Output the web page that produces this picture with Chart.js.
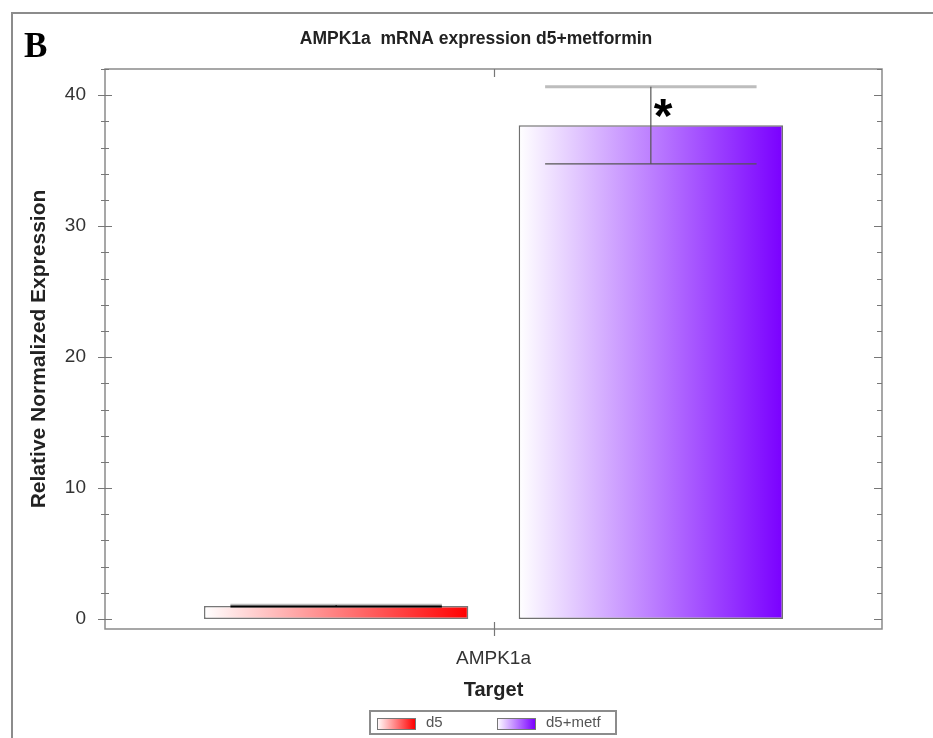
<!DOCTYPE html>
<html>
<head>
<meta charset="utf-8">
<script src="https://cdn.jsdelivr.net/npm/chart.js@4.4.1/dist/chart.umd.min.js"></script>
<style>
html, body { margin: 0; padding: 0; background: #fff; }
</style>
</head>
<body>
<canvas id="exprChart" width="933" height="738"></canvas>
<script>
// data
var targets = ['AMPK1a'];
var groups = ['d5', 'd5+metf'];
var d5Values = [1.0];
var metfValues = [37.7];
var d5Errors = [0.05];
var metfErrors = [2.95];
var marks = ['', '*'];
var yTicks = [0, 2, 4, 6, 8, 10, 12, 14, 16, 18, 20, 22, 24, 26, 28, 30, 32, 34, 36, 38, 40, 42];
var yLabels = [0, 10, 20, 30, 40];
var endColors = ['#ff0000', '#7a00ff'];

var CAT_PCT = 0.81, BAR_PCT = 0.84;

// white -> colour gradient across each bar
function barGradient(ctx) {
    var chart = ctx.chart;
    var xs = chart.scales.x;
    var end = endColors[ctx.datasetIndex];
    if (!xs || !chart.chartArea) return end;
    var center = xs.getPixelForValue(ctx.dataIndex);
    var slot = xs.width * CAT_PCT / 2;
    var w = slot * BAR_PCT;
    var cx = center + (ctx.datasetIndex - 0.5) * slot;
    var g = chart.ctx.createLinearGradient(cx - w / 2, 0, cx + w / 2, 0);
    g.addColorStop(0, '#ffffff');
    g.addColorStop(1, end);
    return g;
}

var errors = [d5Errors, metfErrors];

var decor = {
    id: 'decor',
    beforeDraw: function(chart) {
        var c = chart.ctx;
        c.save();
        // outer frame (top + left)
        c.strokeStyle = '#8c8c8c';
        c.lineWidth = 2;
        c.beginPath();
        c.moveTo(12, 738);
        c.lineTo(12, 13);
        c.lineTo(933, 13);
        c.stroke();
        c.fillStyle = '#000';
        c.font = 'bold 35px "Liberation Serif"';
        c.textBaseline = 'alphabetic';
        c.fillText('B', 24, 57);
        c.fillStyle = '#222';
        c.font = 'bold 17.5px "Liberation Sans"';
        c.textAlign = 'center';
        c.fillText('AMPK1a  mRNA expression d5+metformin', 476, 44);
        c.restore();
    },
    afterDatasetsDraw: function(chart) {
        var c = chart.ctx;
        var ys = chart.scales.y;
        c.save();
        chart.data.datasets.forEach(function(ds, di) {
            var meta = chart.getDatasetMeta(di);
            meta.data.forEach(function(el, i) {
                var v = ds.data[i], e = errors[di][i];
                var half = el.width * 0.4;
                var yHi = ys.getPixelForValue(v + e);
                var yLo = ys.getPixelForValue(v - e);
                c.strokeStyle = '#bdbdbd';
                c.lineWidth = 3;
                c.beginPath(); c.moveTo(el.x - half, yHi); c.lineTo(el.x + half, yHi); c.stroke();
                c.strokeStyle = di === 0 ? '#000' : '#555';
                c.lineWidth = di === 0 ? 2 : 1.2;
                c.beginPath(); c.moveTo(el.x - half, yLo); c.lineTo(el.x + half, yLo); c.stroke();
                c.lineWidth = 1.2;
                c.beginPath(); c.moveTo(el.x, yHi); c.lineTo(el.x, yLo); c.stroke();
                if (marks[di]) {
                    c.fillStyle = '#000';
                    c.font = 'bold 48px "Liberation Sans"';
                    c.textAlign = 'left';
                    c.textBaseline = 'middle';
                    c.fillText(marks[di], el.x + 3, (yHi + el.y) / 2 + 13);
                }
            });
        });
        c.restore();
    },
    afterDraw: function(chart) {
        var c = chart.ctx;
        var a = chart.chartArea;
        var ys = chart.scales.y, xs = chart.scales.x;
        c.save();
        c.strokeStyle = '#8a8a8a';
        c.lineWidth = 1.5;
        c.strokeRect(a.left, a.top, a.right - a.left, a.bottom - a.top);
        c.strokeStyle = '#777';
        c.lineWidth = 1.2;
        yTicks.forEach(function(v) {
            var y = Math.round(ys.getPixelForValue(v)) + 0.5;
            var major = yLabels.indexOf(v) >= 0;
            var l = major ? 7 : 4;
            c.beginPath();
            c.moveTo(a.left - l, y); c.lineTo(a.left + l, y);
            c.moveTo(a.right - (major ? 8 : 5), y); c.lineTo(a.right, y);
            c.stroke();
        });
        targets.forEach(function(t, i) {
            var x = Math.round(xs.getPixelForValue(i)) + 0.5;
            c.beginPath();
            c.moveTo(x, a.bottom - 7); c.lineTo(x, a.bottom + 7);
            c.moveTo(x, a.top); c.lineTo(x, a.top + 8);
            c.stroke();
        });
        // legend box
        c.strokeStyle = '#8c8c8c';
        c.lineWidth = 2;
        c.strokeRect(370, 711, 246, 23);
        var sx = [377, 497];
        c.font = '15px "Liberation Sans"';
        c.textBaseline = 'middle';
        c.textAlign = 'left';
        chart.data.datasets.forEach(function(ds, di) {
            var g = c.createLinearGradient(sx[di], 0, sx[di] + 38, 0);
            g.addColorStop(0, '#ffffff');
            g.addColorStop(1, endColors[di]);
            c.fillStyle = g;
            c.fillRect(sx[di], 718, 38, 11);
            c.strokeStyle = '#777';
            c.lineWidth = 1;
            c.strokeRect(sx[di] + 0.5, 718.5, 38, 11);
            c.fillStyle = '#555';
            c.fillText(ds.label, sx[di] + 49, 723);
        });
        c.restore();
    }
};

var ctx = document.getElementById('exprChart').getContext('2d');
var exprChart = new Chart(ctx, {
    type: 'bar',
    data: {
        labels: targets,
        datasets: [{
            label: groups[0],
            data: d5Values,
            backgroundColor: barGradient,
            borderColor: '#777777',
            borderWidth: 1.5,
            borderSkipped: false
        }, {
            label: groups[1],
            data: metfValues,
            backgroundColor: barGradient,
            borderColor: '#707070',
            borderWidth: 1.5,
            borderSkipped: false
        }]
    },
    options: {
        responsive: false,
        animation: false,
        categoryPercentage: CAT_PCT,
        barPercentage: BAR_PCT,
        layout: { padding: { top: 69, right: 51, left: 0, bottom: 0 } },
        plugins: {
            legend: { display: false },
            title: { display: false },
            tooltip: { enabled: false }
        },
        scales: {
            x: {
                offset: true,
                grid: { display: false, drawTicks: false },
                border: { display: false },
                ticks: { color: '#333', font: { family: 'Liberation Sans', size: 19 }, padding: 18 },
                title: { display: true, text: 'Target', color: '#222', font: { family: 'Liberation Sans', size: 20, weight: 'bold' }, padding: { top: 0, bottom: 36 } },
                afterFit: function(s) { s.height = 109; }
            },
            y: {
                min: -0.76,
                max: 42,
                grid: { display: false, drawTicks: false },
                border: { display: false },
                afterBuildTicks: function(s) { s.ticks = yTicks.map(function(v) { return { value: v }; }); },
                ticks: {
                    color: '#333',
                    font: { family: 'Liberation Sans', size: 19 },
                    padding: 19,
                    autoSkip: false,
                    callback: function(v) { return yLabels.indexOf(v) >= 0 ? v : ''; }
                },
                title: { display: true, text: 'Relative Normalized Expression', color: '#222', font: { family: 'Liberation Sans', size: 21, weight: 'bold' }, padding: { top: 27, bottom: 0 } },
                afterFit: function(s) { s.width = 105; }
            }
        }
    },
    plugins: [decor]
});
</script>
</body>
</html>
